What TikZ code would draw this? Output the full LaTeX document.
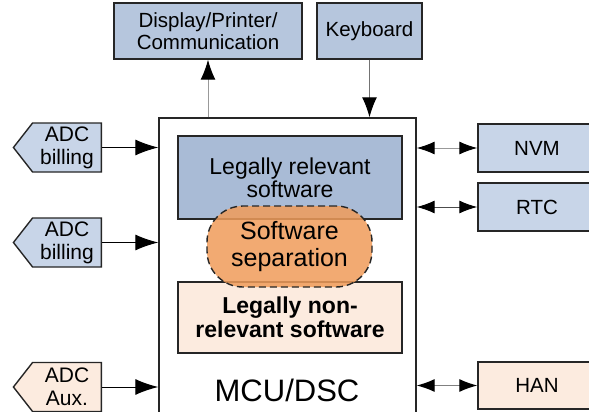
\documentclass[tikz,border=0pt]{standalone}
\usepackage{fontspec}
\setmainfont{Liberation Sans}
\usetikzlibrary{arrows.meta,shapes.symbols}
\definecolor{topblue}{HTML}{B6C6DD}
\definecolor{sideblue}{HTML}{C8D5E8}
\definecolor{legalblue}{HTML}{A9BBD6}
\definecolor{peach}{HTML}{FCEBDF}
\definecolor{sepor}{HTML}{F09C5A}
\begin{document}
\begin{tikzpicture}[x=1pt, y=-1pt,
    blk/.style={draw=black!85, line width=1.4pt, align=center, inner sep=0pt},
    adc/.style={blk, signal, signal to=west, signal pointer angle=104,
        minimum width=88pt, minimum height=49pt,
        font=\fontsize{21}{23}\selectfont},
    periph/.style={blk, fill=sideblue, minimum width=118pt,
        font=\fontsize{20.5}{22}\selectfont},
    sig/.style={line width=1pt, -{Latex[length=23pt, width=16pt, color=black]}},
    vsig/.style={line width=1pt, -{Latex[length=20pt, width=15pt, color=black]}},
    bisig/.style={line width=1pt, {Latex[length=18pt, width=13pt, color=black]}-{Latex[length=18pt, width=13pt, color=black]}}]
    \useasboundingbox (0,0) rectangle (589,412);
    \clip (0,0) rectangle (589,412);
    % Top peripherals
    \node[blk, fill=topblue, minimum width=188pt, minimum height=56pt,
        font=\fontsize{20.5}{21.5}\selectfont] (disp) at (208,31) {Display/Printer/\\Communication};
    \node[blk, fill=topblue, minimum width=105pt, minimum height=56pt,
        font=\fontsize{20.5}{22}\selectfont] (keyb) at (369.5,31) {Keyboard};
    % Controller
    \node[blk, fill=white, minimum width=257pt, minimum height=330pt] (mcu) at (287.5,283) {};
    \node[font=\fontsize{31}{33}\selectfont] (mcutext) at (287,390) {MCU/DSC};
    % Software blocks
    \node[blk, fill=legalblue, minimum width=224pt, minimum height=83pt,
        font=\fontsize{23}{23}\selectfont] (legal) at (290,177.5) {Legally relevant\\software};
    \node[blk, fill=peach, minimum width=224pt, minimum height=71pt,
        font=\fontsize{23}{24}\selectfont\bfseries] (nonlegal) at (290,317.5) {Legally non-\\relevant software};
    \node[blk, fill=sepor, fill opacity=0.85, text opacity=1, dash pattern=on 7pt off 4pt,
        rounded corners=36pt, minimum width=165pt, minimum height=81pt,
        font=\fontsize{25}{27}\selectfont] (sep) at (289.5,246.5) {Software\\separation};
    % Inputs
    \node[adc, fill=sideblue] (adca) at (67,147.5) {ADC\\billing};
    \node[adc, fill=sideblue] (adcb) at (67,242.5) {ADC\\billing};
    \node[adc, fill=peach] (adcc) at (67,387) {ADC\\Aux.};
    % Side peripherals
    \node[periph, minimum height=48pt] (nvm) at (537,148) {NVM};
    \node[periph, minimum height=48pt] (rtc) at (537,207) {RTC};
    \node[periph, fill=peach, minimum height=47pt] (han) at (537,385.5) {HAN};
    % Arrows
    \draw[vsig, draw=black!40] (disp.south |- mcu.north) -- (disp.south);
    \draw[vsig, draw=black!55] (keyb.south) -- (keyb.south |- mcu.north);
    \foreach \n in {adca,adcb,adcc}
        \draw[sig] (\n.east) -- (\n.east -| mcu.west);
    \draw[bisig, draw=black!40] (nvm.west -| mcu.east) -- (nvm.west);
    \draw[bisig, draw=black!70] (rtc.west -| mcu.east) -- (rtc.west);
    \draw[bisig, draw=black!50] (han.west -| mcu.east) -- (han.west);
\end{tikzpicture}
\end{document}
